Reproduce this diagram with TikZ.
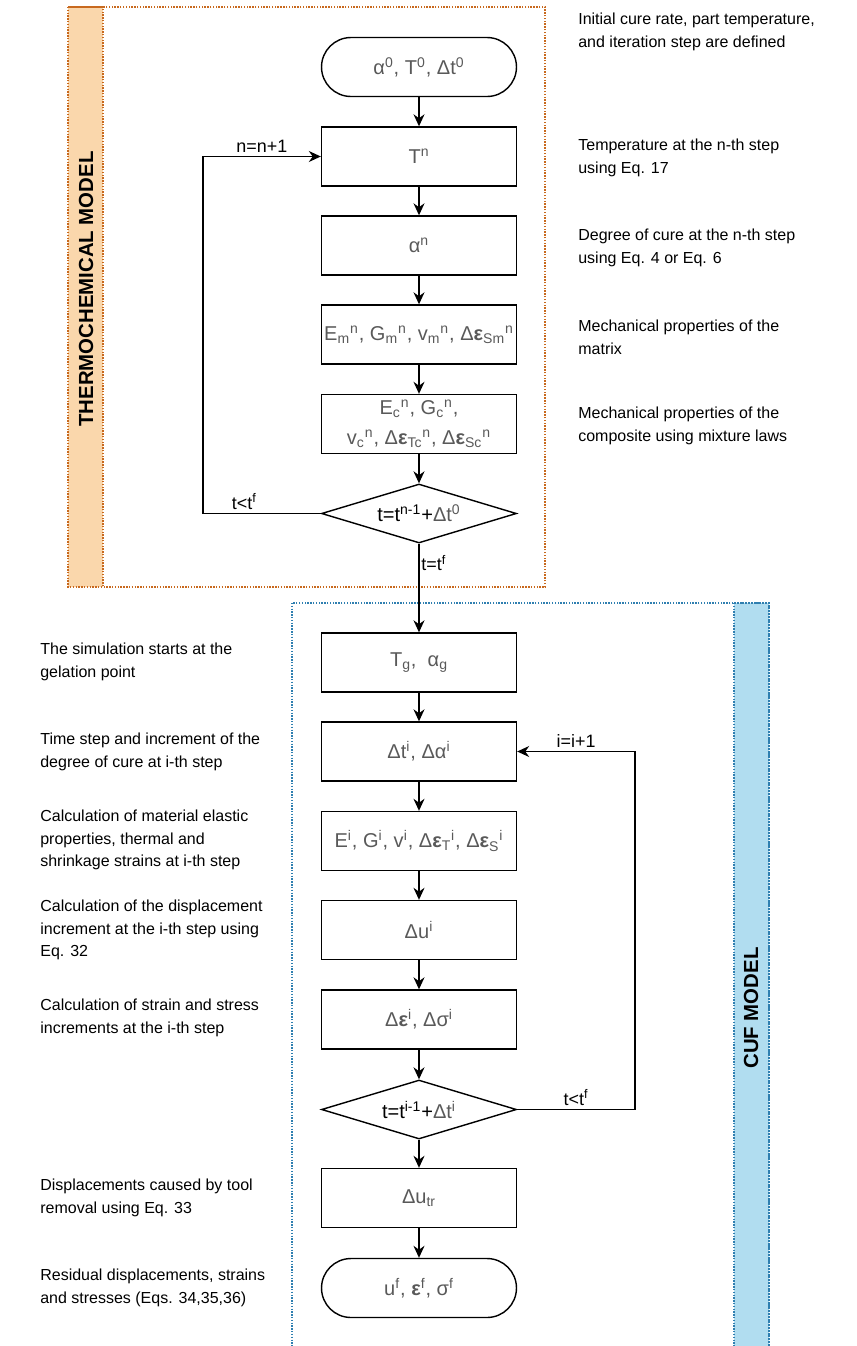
\documentclass[tikz,border=0pt]{standalone}
\usepackage{fontspec}
\setmainfont{Liberation Sans}
\usetikzlibrary{positioning,shapes.geometric,arrows.meta}
\definecolor{boxtext}{HTML}{595959}
\definecolor{orangefill}{HTML}{FAD7AC}
\definecolor{orangeline}{HTML}{C8691E}
\definecolor{bluefill}{HTML}{B1DDF0}
\definecolor{blueline}{HTML}{2F7FB0}

\tikzset{
  block/.style={draw, line width=0.8pt, minimum width=3.9cm, minimum height=1.18cm,
    inner sep=1pt, align=center, text=boxtext, font=\fontsize{11.4}{13}\selectfont},
  term/.style={block, rounded corners=0.59cm},
  decision/.style={draw, diamond, aspect=3.3, line width=0.8pt, minimum width=3.9cm,
    minimum height=1.18cm, inner sep=0pt, font=\fontsize{11.4}{13}\selectfont},
  note/.style={anchor=west, align=left, inner sep=0pt, font=\fontsize{9.1}{13}\selectfont},
  flow/.style={-{Stealth[length=2.4mm,width=2.2mm]}, line width=0.8pt},
  looplabel/.style={font=\fontsize{10.2}{12}\selectfont, inner sep=2pt},
  panel/.style={line width=0.9pt, dash pattern=on 0.8pt off 0.8pt},
  paneltitle/.style={rotate=90, font=\fontsize{11.6}{13}\selectfont\bfseries}
}

\begin{document}
\begin{tikzpicture}[x=0.02cm,y=-0.02cm]
\path[use as bounding box, clip] (0,0) rectangle (856,1346);

% thermochemical panel
\filldraw[panel, draw=orangeline, fill=orangefill] (68,7) rectangle (103,587);
\draw[panel, orangeline] (68,7) rectangle (545,587);
\node[paneltitle] (thermo) at (86,289) {THERMOCHEMICAL MODEL};

% CUF panel
\filldraw[panel, draw=blueline, fill=bluefill] (734,603) rectangle (769,1360);
\draw[panel, blueline] (292,603) rectangle (769,1360);
\node[paneltitle] (cuf) at (751,1008) {CUF MODEL};

% steps
\node[term] (start) at (419,67) {α\textsuperscript{0}, T\textsuperscript{0}, Δt\textsuperscript{0}};
\node[block] (Tn) at (419,156.5) {T\textsuperscript{n}};
\node[block] (alphan) at (419,245.5) {α\textsuperscript{n}};
\node[block] (Em) at (419,334.5) {E\textsubscript{m}\textsuperscript{n}, G\textsubscript{m}\textsuperscript{n}, v\textsubscript{m}\textsuperscript{n}, Δ\textbf{ε}\textsubscript{Sm}\textsuperscript{n}};
\node[block] (Ec) at (419,424) {E\textsubscript{c}\textsuperscript{n}, G\textsubscript{c}\textsuperscript{n},\\[4pt]
  v\textsubscript{c}\textsuperscript{n}, Δ\textbf{ε}\textsubscript{Tc}\textsuperscript{n}, Δ\textbf{ε}\textsubscript{Sc}\textsuperscript{n}};
\node[decision] (dec1) at (419,513.5) {t=t\textsuperscript{n-1}+{\color{boxtext}Δt\textsuperscript{0}}};

\node[block] (Tg) at (419,662.5) {T\textsubscript{g},\ \ α\textsubscript{g}};
\node[block] (dti) at (419,751.5) {Δt\textsuperscript{i}, Δα\textsuperscript{i}};
\node[block] (Ei) at (419,841) {E\textsuperscript{i}, G\textsuperscript{i}, v\textsuperscript{i}, Δ\textbf{ε}\textsubscript{T}\textsuperscript{i}, Δ\textbf{ε}\textsubscript{S}\textsuperscript{i}};
\node[block] (dui) at (419,930) {Δu\textsuperscript{i}};
\node[block] (deps) at (419,1019.5) {Δ\textbf{ε}\textsuperscript{i}, Δσ\textsuperscript{i}};
\node[decision] (dec2) at (419,1109.5) {t=t\textsuperscript{i-1}+{\color{boxtext}Δt\textsuperscript{i}}};
\node[block] (dutr) at (419,1198) {Δu\textsubscript{tr}};
\node[term] (finish) at (419,1288) {u\textsuperscript{f}, \textbf{ε}\textsuperscript{f}, σ\textsuperscript{f}};

% arrows
\draw[flow] (start) -- (Tn);
\draw[flow] (Tn) -- (alphan);
\draw[flow] (alphan) -- (Em);
\draw[flow] (Em) -- (Ec);
\draw[flow] (Ec) -- (dec1);
\draw[flow] (dec1) -- node[pos=0.22, right, looplabel, inner sep=1pt] {t=t\textsuperscript{f}} (Tg);
\draw[flow] (Tg) -- (dti);
\draw[flow] (dti) -- (Ei);
\draw[flow] (Ei) -- (dui);
\draw[flow] (dui) -- (deps);
\draw[flow] (deps) -- (dec2);
\draw[flow] (dec2) -- (dutr);
\draw[flow] (dutr) -- (finish);

% loops
\coordinate (cornerL) at (203,513.5);
\draw[flow] (dec1.west) -- node[pos=0.65, above, looplabel] {t<t\textsuperscript{f}} (cornerL)
  |- node[pos=0.75, above, looplabel] {n=n+1} (Tn.west);
\coordinate (cornerR) at (635,1109.5);
\draw[flow] (dec2.east) -- node[pos=0.5, above, looplabel] {t<t\textsuperscript{f}} (cornerR)
  |- node[pos=0.75, above, looplabel] {i=i+1} (dti.east);

% notes
\node[note] (n1) at (578,32) {Initial cure rate, part temperature,\\and iteration step are defined};
\node[note] (n2) at (578,158) {Temperature at the n-th step\\using Eq. 17};
\node[note] (n3) at (578,248) {Degree of cure at the n-th step\\using Eq. 4 or Eq. 6};
\node[note] (n4) at (578,337) {Mechanical properties of the\\matrix};
\node[note] (n5) at (578,426) {Mechanical properties of the\\composite using mixture laws};

\node[note] (m1) at (40,662) {The simulation starts at the\\gelation point};
\node[note] (m2) at (40,752) {Time step and increment of the\\degree of cure at i-th step};
\node[note] (m3) at (40,840) {Calculation of material elastic\\properties, thermal and\\shrinkage strains at i-th step};
\node[note] (m4) at (40,930) {Calculation of the displacement\\increment at the i-th step using\\Eq. 32};
\node[note] (m5) at (40,1018) {Calculation of strain and stress\\increments at the i-th step};
\node[note] (m6) at (40,1198) {Displacements caused by tool\\removal using Eq. 33};
\node[note] (m7) at (40,1288) {Residual displacements, strains\\and stresses (Eqs. 34,35,36)};
\end{tikzpicture}
\end{document}
